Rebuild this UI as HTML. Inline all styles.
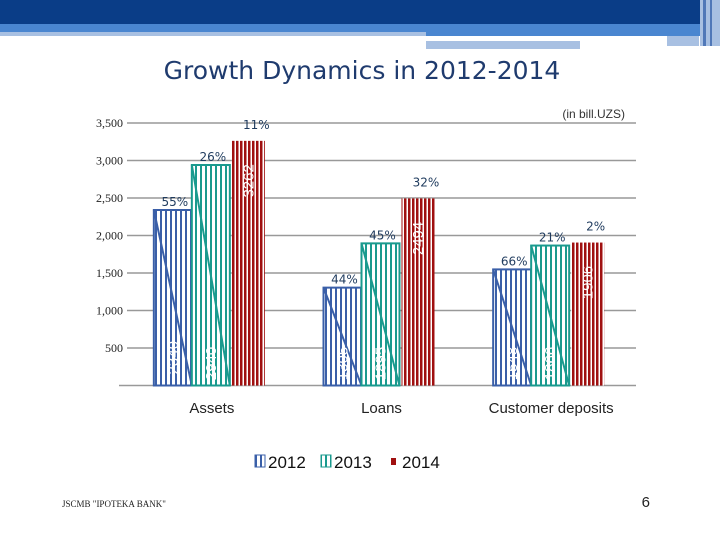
<!DOCTYPE html>
<html><head><meta charset="utf-8"><style>
body{margin:0;width:720px;height:540px;overflow:hidden;background:#fff;font-family:"Liberation Sans",sans-serif}
</style></head><body>
<svg width="720" height="540">
<defs>
<pattern id="p0" width="5" height="10" patternUnits="userSpaceOnUse"><rect width="5" height="10" fill="#fff"/><rect width="2" height="10" fill="#3a5fa8"/></pattern>
<pattern id="p1" width="5" height="10" patternUnits="userSpaceOnUse"><rect width="5" height="10" fill="#fff"/><rect width="2" height="10" fill="#1a9a8e"/></pattern>
<pattern id="p2" width="4" height="10" patternUnits="userSpaceOnUse"><rect width="4" height="10" fill="#fff"/><rect width="2.5" height="10" fill="#a01010"/></pattern>
</defs>
<rect x="0" y="0" width="720" height="24" fill="#0a3d87"/>
<rect x="0" y="24" width="700" height="8" fill="#4a86d0"/>
<rect x="426" y="32" width="274" height="4" fill="#4a86d0"/>
<rect x="0" y="32" width="426" height="4" fill="#a8c0e2"/>
<rect x="426" y="41" width="154" height="8" fill="#a8c0e2"/>
<rect x="667" y="36" width="32" height="10" fill="#a8c0e2"/>
<rect x="700" y="0" width="20" height="46" fill="#a8c0e2"/>
<rect x="703" y="0" width="3" height="46" fill="#5078b8"/>
<rect x="710" y="0" width="2" height="46" fill="#5078b8"/>
<text x="362" y="79" text-anchor="middle" font-family="DejaVu Sans" font-size="25" fill="#1f3b6e">Growth Dynamics in 2012-2014</text>
<text x="625" y="118" text-anchor="end" font-size="12" fill="#333">(in bill.UZS)</text>
<g id="grid"></g><g id="bars"></g>
<g font-size="17" fill="#111">
<rect x="255" y="455" width="10" height="12" fill="url(#p0)" stroke="#3a5fa8"/>
<text x="268" y="468">2012</text>
<rect x="321" y="455" width="10" height="12" fill="url(#p1)" stroke="#1a9a8e"/>
<text x="334" y="468">2013</text>
<rect x="391" y="458" width="5" height="7" fill="#a01010"/>
<text x="402" y="468">2014</text>
</g>
<text x="62" y="507" font-family="Liberation Serif" font-size="9" fill="#222">JSCMB "IPOTEKA BANK"</text>
<text x="650" y="507" text-anchor="end" font-size="15" fill="#222">6</text>
</svg>
<script>
const categories=["Assets","Loans","Customer deposits"];
const v2012=[2340,1305,1548];
const v2013=[2940,1895,1866];
const v2014=[3262,2494,1906];
const growth2013=["55%","44%","66%"];
const growth2014=["26%","45%","21%"];
const growth2014b=["11%","32%","2%"];
const yTicks=[500,1000,1500,2000,2500,3000,3500];
const NS="http://www.w3.org/2000/svg";
const x0=127,x1=636,yBase=385.5,k=37.5/500;
const y=v=>yBase-v*k;
const catW=(x1-x0)/3;
const cx=i=>x0+catW*(i+0.5);
function mk(tag,attrs,parent){const e=document.createElementNS(NS,tag);for(const a in attrs)e.setAttribute(a,attrs[a]);parent.appendChild(e);return e;}
const grid=document.getElementById('grid'),bars=document.getElementById('bars');
yTicks.forEach(t=>{
 const l=mk('line',{x1:x0,x2:x1,y1:y(t),y2:y(t),stroke:'#999','stroke-width':1.5},grid);
 
 
 const tx=mk('text',{x:x0-4,y:y(t)+4,'text-anchor':'end','font-size':12,'font-family':'Liberation Serif',fill:'#222'},grid);
 tx.textContent=t.toLocaleString('en-US');
 
 
});
const ax=mk('line',{x1:x0-8,x2:x1,y1:yBase,y2:yBase,stroke:'#999','stroke-width':1.5},grid);


const series=[{v:v2012,f:'url(#p0)',s:'#3a5fa8',lab:growth2013,off:-58,w:38},{v:v2013,f:'url(#p1)',s:'#1a9a8e',lab:growth2014,off:-20,w:38},{v:v2014,f:'url(#p2)',s:'#a01010',lab:growth2014b,off:20,w:33}];
categories.forEach((c,i)=>{
 const t=mk('text',{x:cx(i),y:413,'text-anchor':'middle','font-size':15,fill:'#222'},grid);
 t.textContent=c;
 
 
 series.forEach((s,j)=>{
  const bx=cx(i)+s.off, top=y(s.v[i]);
  const r=mk('rect',{x:bx,y:top,width:s.w,height:yBase-top,fill:s.f,stroke:j<2?s.s:'none','stroke-width':2},bars);
  
  
  if(j<2){const d=mk('line',{x1:bx,y1:top,x2:bx+s.w,y2:yBase,stroke:s.s,'stroke-width':2},bars);
   
   }
  const mid=(top+yBase)/2+20;
  const vl=mk('text',{x:0,y:0,'text-anchor':'middle','font-size':15,fill:'#fff',transform:`translate(${bx+s.w/2+5},${j==0&&i==0?mid+40:(j==2?top+40:yBase-22)}) rotate(-90)`},bars);
  vl.textContent=s.v[i];
  
  
  const pl=mk('text',{x:bx+(j==2?s.w/2+8:s.w/2+2),y:top-(j==2?12:4),'text-anchor':'middle','font-size':12,'font-family':'DejaVu Sans',fill:'#1f3b5e'},bars);
  pl.textContent=s.lab[i];
  
  
 });
});
</script>
</body></html>
